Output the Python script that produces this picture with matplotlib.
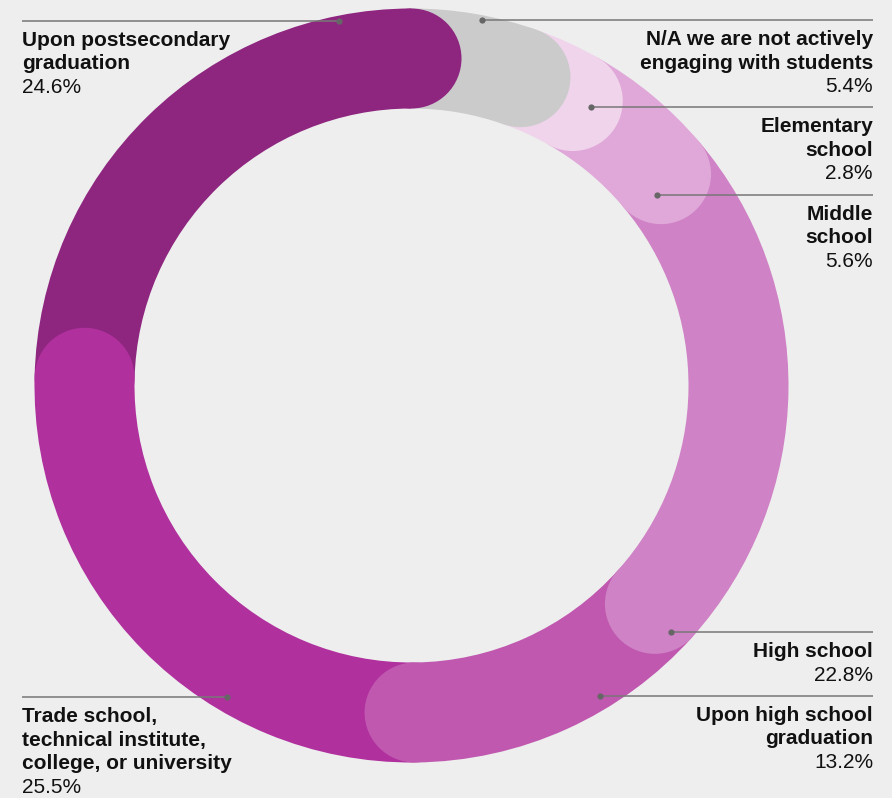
import numpy as np
import matplotlib
matplotlib.use("Agg")
import matplotlib.pyplot as plt
from matplotlib.patches import Wedge, Circle

# data, clockwise from 12 o'clock
categories = ["N/A we are not actively\nengaging with students",
              "Elementary\nschool",
              "Middle\nschool",
              "High school",
              "Upon high school\ngraduation",
              "Trade school,\ntechnical institute,\ncollege, or university",
              "Upon postsecondary\ngraduation"]
values = [5.4, 2.8, 5.6, 22.8, 13.2, 25.5, 24.6]
colors = ["#cbcbcb", "#f0d4ec", "#e0a8d8", "#cf82c5", "#c058b0", "#b0309e", "#8e2680"]

# where each leader dot sits on the ring (percent along ring, radius px) and label side
anchor_pct = [3.05, 9.1, 14.5, 37.1, 41.3, 58.5, 96.9]
anchor_r = [372, 331, 311, 358, 363, 362, 372]
side = ["right", "right", "right", "right", "right", "left", "left"]

bg = "#eeeeee"
cx, cy = 411.5, 385.5
r_out, r_in = 377, 277
w = r_out - r_in
r_mid = (r_out + r_in) / 2
FONT = "Liberation Sans"

fig = plt.figure(figsize=(8.92, 7.98), dpi=100, facecolor=bg)
ax = fig.add_axes([0, 0, 1, 1])
ax.set_xlim(0, 892)
ax.set_ylim(798, 0)
ax.axis("off")
ax.set_facecolor(bg)

tot = sum(values)
cum = np.concatenate([[0], np.cumsum(values)]) / tot * 360  # clockwise angles from top

# ring segments first
for i in range(len(values)):
    ax.add_patch(Wedge((cx, cy), r_out, cum[i] - 90, cum[i + 1] - 90, width=w,
                       facecolor=colors[i], edgecolor="none"))
# rounded end caps, drawn backwards so each cap sits over the next one
for i in reversed(range(len(values))):
    phi = np.radians(cum[i + 1])
    ax.add_patch(Circle((cx + r_mid * np.sin(phi), cy - r_mid * np.cos(phi)), w / 2,
                        facecolor=colors[i], edgecolor="none"))

# labels with leader lines
for i in range(len(values)):
    phi = np.radians(anchor_pct[i] / 100 * 360)
    dx = cx + anchor_r[i] * np.sin(phi)
    dy = cy - anchor_r[i] * np.cos(phi)
    if side[i] == "right":
        x_txt, ha = 873, "right"
    else:
        x_txt, ha = 22, "left"
    ax.plot([dx, x_txt], [dy, dy], color="#777777", lw=1.1, solid_capstyle="butt")
    ax.plot(dx, dy, "o", color="#666666", ms=4.5, mec="none")
    lines = categories[i].split("\n")
    for k, ln in enumerate(lines):
        ax.text(x_txt, dy + 25 + k * 23.5, ln, ha=ha, va="baseline",
                fontsize=15, fontweight="bold", color="#111111", family=FONT)
    ax.text(x_txt, dy + 25 + len(lines) * 23.5, f"{values[i]}%", ha=ha, va="baseline",
            fontsize=15, color="#111111", family=FONT)

fig.savefig("out.png", dpi=100, facecolor=bg)
